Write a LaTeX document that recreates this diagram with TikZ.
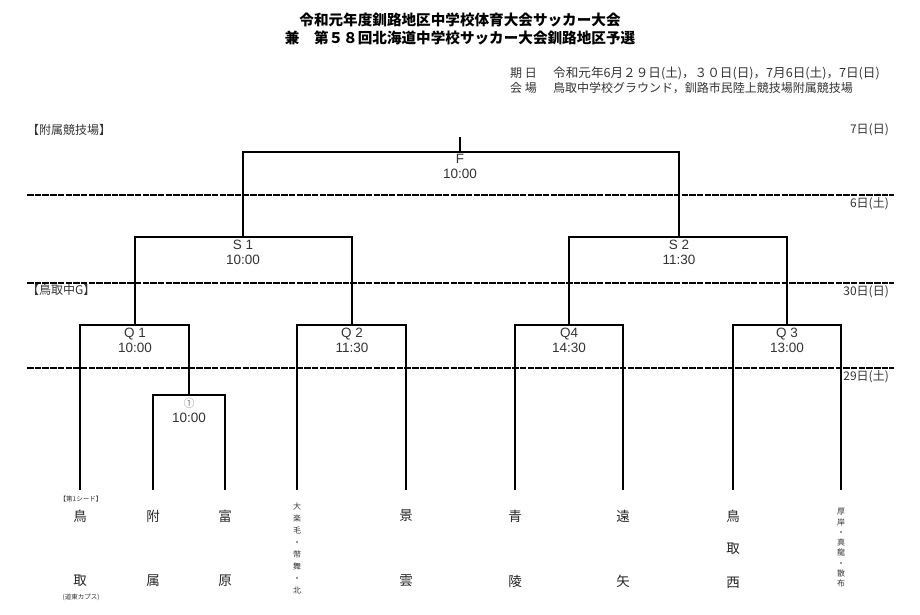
\documentclass[tikz,border=0pt]{standalone}
\usepackage{fontspec}
\setmainfont{Liberation Sans}
\newfontfamily\jp{Noto Sans CJK JP}
\usetikzlibrary{calc,positioning}

\begin{document}
\begin{tikzpicture}[x=1pt,y=-1pt,
  bar/.style={line width=1.5pt},
  dayline/.style={line width=2.2pt, dash pattern=on 6.5pt off 1.2pt},
  lbl/.style={below, inner sep=2.5pt, align=center, text=black!80, font=\fontsize{13.5}{15}\selectfont},
  info/.style={anchor=west, inner sep=0pt, text=black!80, font=\jp\fontsize{12}{14}\selectfont},
  team/.style={inner sep=0pt, text=black!85, font=\jp\fontsize{13.5}{15}\selectfont},
  vteam/.style={inner sep=0pt, align=center, text=black!80},
  small/.style={inner sep=0pt, text=black!80, font=\jp\fontsize{6.5}{8}\selectfont},
  daylbl/.style={anchor=north east, inner sep=0pt, text=black!80, font=\jp\fontsize{12}{14}\selectfont}]
\useasboundingbox (0,0) rectangle (920,614);
% title
\node[inner sep=0pt, align=center, font=\jp\bfseries\fontsize{14.6}{18}\selectfont] (title) at (460,29) {令和元年度釧路地区中学校体育大会サッカー大会\\兼　第５８回北海道中学校サッカー大会釧路地区予選};
\node[info] (kijitsu) at (510,73) {期\ 日};
\node[info, font=\jp\fontsize{12.6}{14}\selectfont] (dates) at (553,73) {令和元年6月２９日(土)，３０日(日)，7月6日(土)，7日(日)};
\node[info] (kaijo) at (510,88) {会\ 場};
\node[info] (venue) at (553,88) {鳥取中学校グラウンド，釧路市民陸上競技場附属競技場};
% venues and days
\node[info] (fuzoku) at (27,130) {【附属競技場】};
\node[info] (tottori) at (27,290) {【鳥取中G】};
\node[daylbl] (d7) at (889,123) {7日(日)};
\coordinate (l1a) at (27,195); \coordinate (l1b) at (894,195);
\coordinate (l2a) at (27,283); \coordinate (l2b) at (894,283);
\coordinate (l3a) at (27,368); \coordinate (l3b) at (894,368);
\draw[dayline] (l1a) -- (l1b);
\draw[dayline] (l2a) -- (l2b);
\draw[dayline] (l3a) -- (l3b);
\node[daylbl] (d6) at (889,197) {6日(土)};
\node[daylbl] (d30) at (889,285) {30日(日)};
\node[daylbl] (d29) at (889,370) {29日(土)};
% matches
\coordinate (top) at (460,137);
\coordinate (f) at (460,152);
\coordinate (s1) at (243,237);
\coordinate (s2) at (679,237);
\coordinate (q1) at (135,325);
\coordinate (q2) at (352,325);
\coordinate (q4) at (569,325);
\coordinate (q3) at (787,325);
\coordinate (m1) at (189,395);
% teams
\coordinate (t1) at (80,490);
\coordinate (t2) at (153,490);
\coordinate (t3) at (225,490);
\coordinate (t4) at (297,490);
\coordinate (t5) at (406,490);
\coordinate (t6) at (515,490);
\coordinate (t7) at (623,490);
\coordinate (t8) at (733,490);
\coordinate (t9) at (841,490);
% bracket
\draw[bar] (top) -- (f);
\draw[bar] (s1) |- (f) -| (s2);
\draw[bar] (q1) |- (s1) -| (q2);
\draw[bar] (q4) |- (s2) -| (q3);
\draw[bar] (t1) |- (q1) -| (m1);
\draw[bar] (t2) |- (m1) -| (t3);
\draw[bar] (t4) |- (q2) -| (t5);
\draw[bar] (t6) |- (q4) -| (t7);
\draw[bar] (t8) |- (q3) -| (t9);
\node[lbl] (lf) at (f) {F\\10:00};
\node[lbl] (ls1) at (s1) {S 1\\10:00};
\node[lbl] (ls2) at (s2) {S 2\\11:30};
\node[lbl] (lq1) at (q1) {Q 1\\10:00};
\node[lbl] (lq2) at (q2) {Q 2\\11:30};
\node[lbl] (lq4) at (q4) {Q4\\14:30};
\node[lbl] (lq3) at (q3) {Q 3\\13:00};
\node[lbl] (lm1) at (m1) {{\jp\color{gray}\fontsize{11}{12}\selectfont ①}\\10:00};
% team names
\node[small] (seed) at (81,499) {【第1シード】};
\node[team] (t1a) at (80,516) {鳥};
\node[team] (t1b) at (80,581) {取};
\node[small] (t1c) at (81,597) {(道東カプス)};
\node[team] (t2a) at (153,516) {附};
\node[team] (t2b) at (153,581) {属};
\node[team] (t3a) at (225,516) {富};
\node[team] (t3b) at (225,581) {原};
\node[vteam, font=\jp\fontsize{8}{12}\selectfont] (t4a) at (297,548) {大\\楽\\毛\\・\\幣\\舞\\・\\北};
\node[team] (t5a) at (406,516) {景};
\node[team] (t5b) at (406,581) {雲};
\node[team] (t6a) at (515,516) {青};
\node[team] (t6b) at (515,581) {陵};
\node[team] (t7a) at (623,516) {遠};
\node[team] (t7b) at (623,581) {矢};
\node[team] (t8a) at (733,516) {鳥};
\node[team] (t8b) at (733,549) {取};
\node[team] (t8c) at (733,583) {西};
\node[vteam, font=\jp\fontsize{8}{10.3}\selectfont] (t9a) at (841,548) {厚\\岸\\・\\真\\龍\\・\\散\\布};
\end{tikzpicture}
\end{document}
